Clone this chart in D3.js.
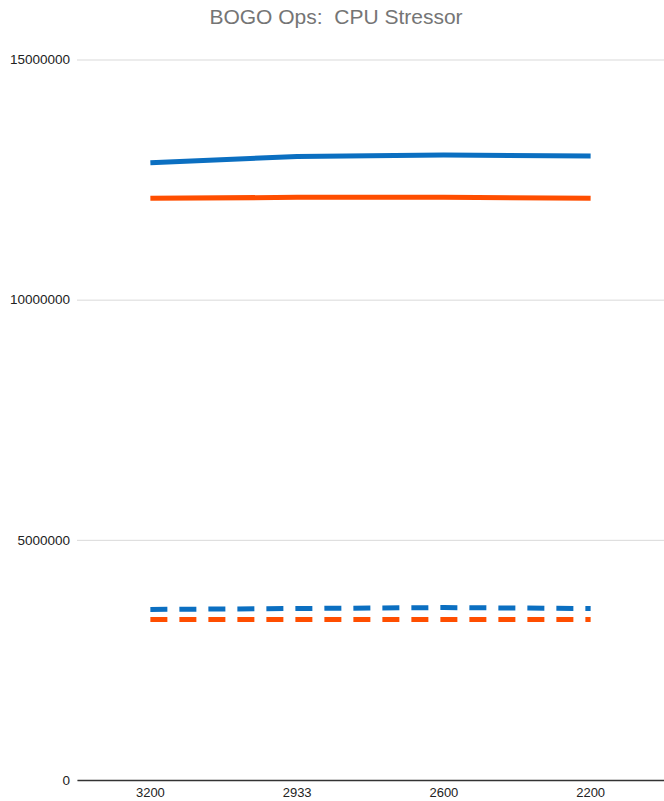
<!DOCTYPE html>
<html>
<head>
<meta charset="utf-8">
<script src="https://cdn.jsdelivr.net/npm/d3@7"></script>
<style>
  html, body { margin: 0; padding: 0; background: #fff; }
  svg { display: block; font-family: "Liberation Sans", Arial, sans-serif; }
</style>
</head>
<body>
<svg id="chart" width="664" height="801"></svg>
<script>
// Clock speeds (MHz) along the x axis
const categories = ["3200", "2933", "2600", "2200"];
// BOGO ops per run
const blueSolid   = [12850000, 12980000, 13010000, 12990000];
const orangeSolid = [12110000, 12130000, 12130000, 12110000];
const blueDashed  = [3550000, 3570000, 3590000, 3570000];
const orangeDashed = [3340000, 3340000, 3340000, 3340000];
const yTicks = [0, 5000000, 10000000, 15000000];

const series = [
  { values: blueSolid,    color: "#0b6fc1", dash: null },
  { values: orangeSolid,  color: "#ff4e00", dash: null },
  { values: blueDashed,   color: "#0b6fc1", dash: "17,12" },
  { values: orangeDashed, color: "#ff4e00", dash: "17,12" }
];

const svg = d3.select("#chart");
const plotLeft = 77, plotRight = 664, plotTop = 59.5, plotBottom = 780;

const x = d3.scaleBand().domain(categories).range([plotLeft, plotRight]).padding(0);
const y = d3.scaleLinear().domain([0, 15000000]).range([plotBottom, plotTop]);

// Title
svg.append("text")
  .attr("x", 336).attr("y", 24)
  .attr("text-anchor", "middle")
  .attr("fill", "#757575")
  .attr("font-size", 21)
  .style("white-space", "pre")
  .text("BOGO Ops:  CPU Stressor");

// Horizontal gridlines with value labels
const yAxis = d3.axisLeft(y).tickValues(yTicks).tickFormat(d3.format("d"))
  .tickSize(-(plotRight - plotLeft)).tickPadding(7);
const gy = svg.append("g").attr("transform", `translate(${plotLeft},0)`).call(yAxis);
gy.select(".domain").remove();
gy.selectAll(".tick line").attr("stroke", "#d9d9d9").attr("stroke-width", 1);
gy.selectAll(".tick text").attr("fill", "#222").attr("font-size", 13.5)
  .attr("font-family", "'Liberation Sans', Arial, sans-serif");

// Baseline and category labels
const xAxis = d3.axisBottom(x).tickSize(0).tickPadding(8);
const gx = svg.append("g").attr("transform", `translate(0,${plotBottom})`).call(xAxis);
gx.select(".domain").attr("stroke", "#333").attr("stroke-width", 1.5);
gx.selectAll(".tick text").attr("fill", "#222").attr("font-size", 13)
  .attr("font-family", "'Liberation Sans', Arial, sans-serif");

const line = d3.line()
  .x((d, i) => x(categories[i]) + x.bandwidth() / 2)
  .y(d => y(d));

svg.append("g").selectAll("path")
  .data(series)
  .join("path")
  .attr("d", s => line(s.values))
  .attr("fill", "none")
  .attr("stroke", s => s.color)
  .attr("stroke-width", 5)
  .attr("stroke-linejoin", "round")
  .attr("stroke-dasharray", s => s.dash);
</script>
</body>
</html>
